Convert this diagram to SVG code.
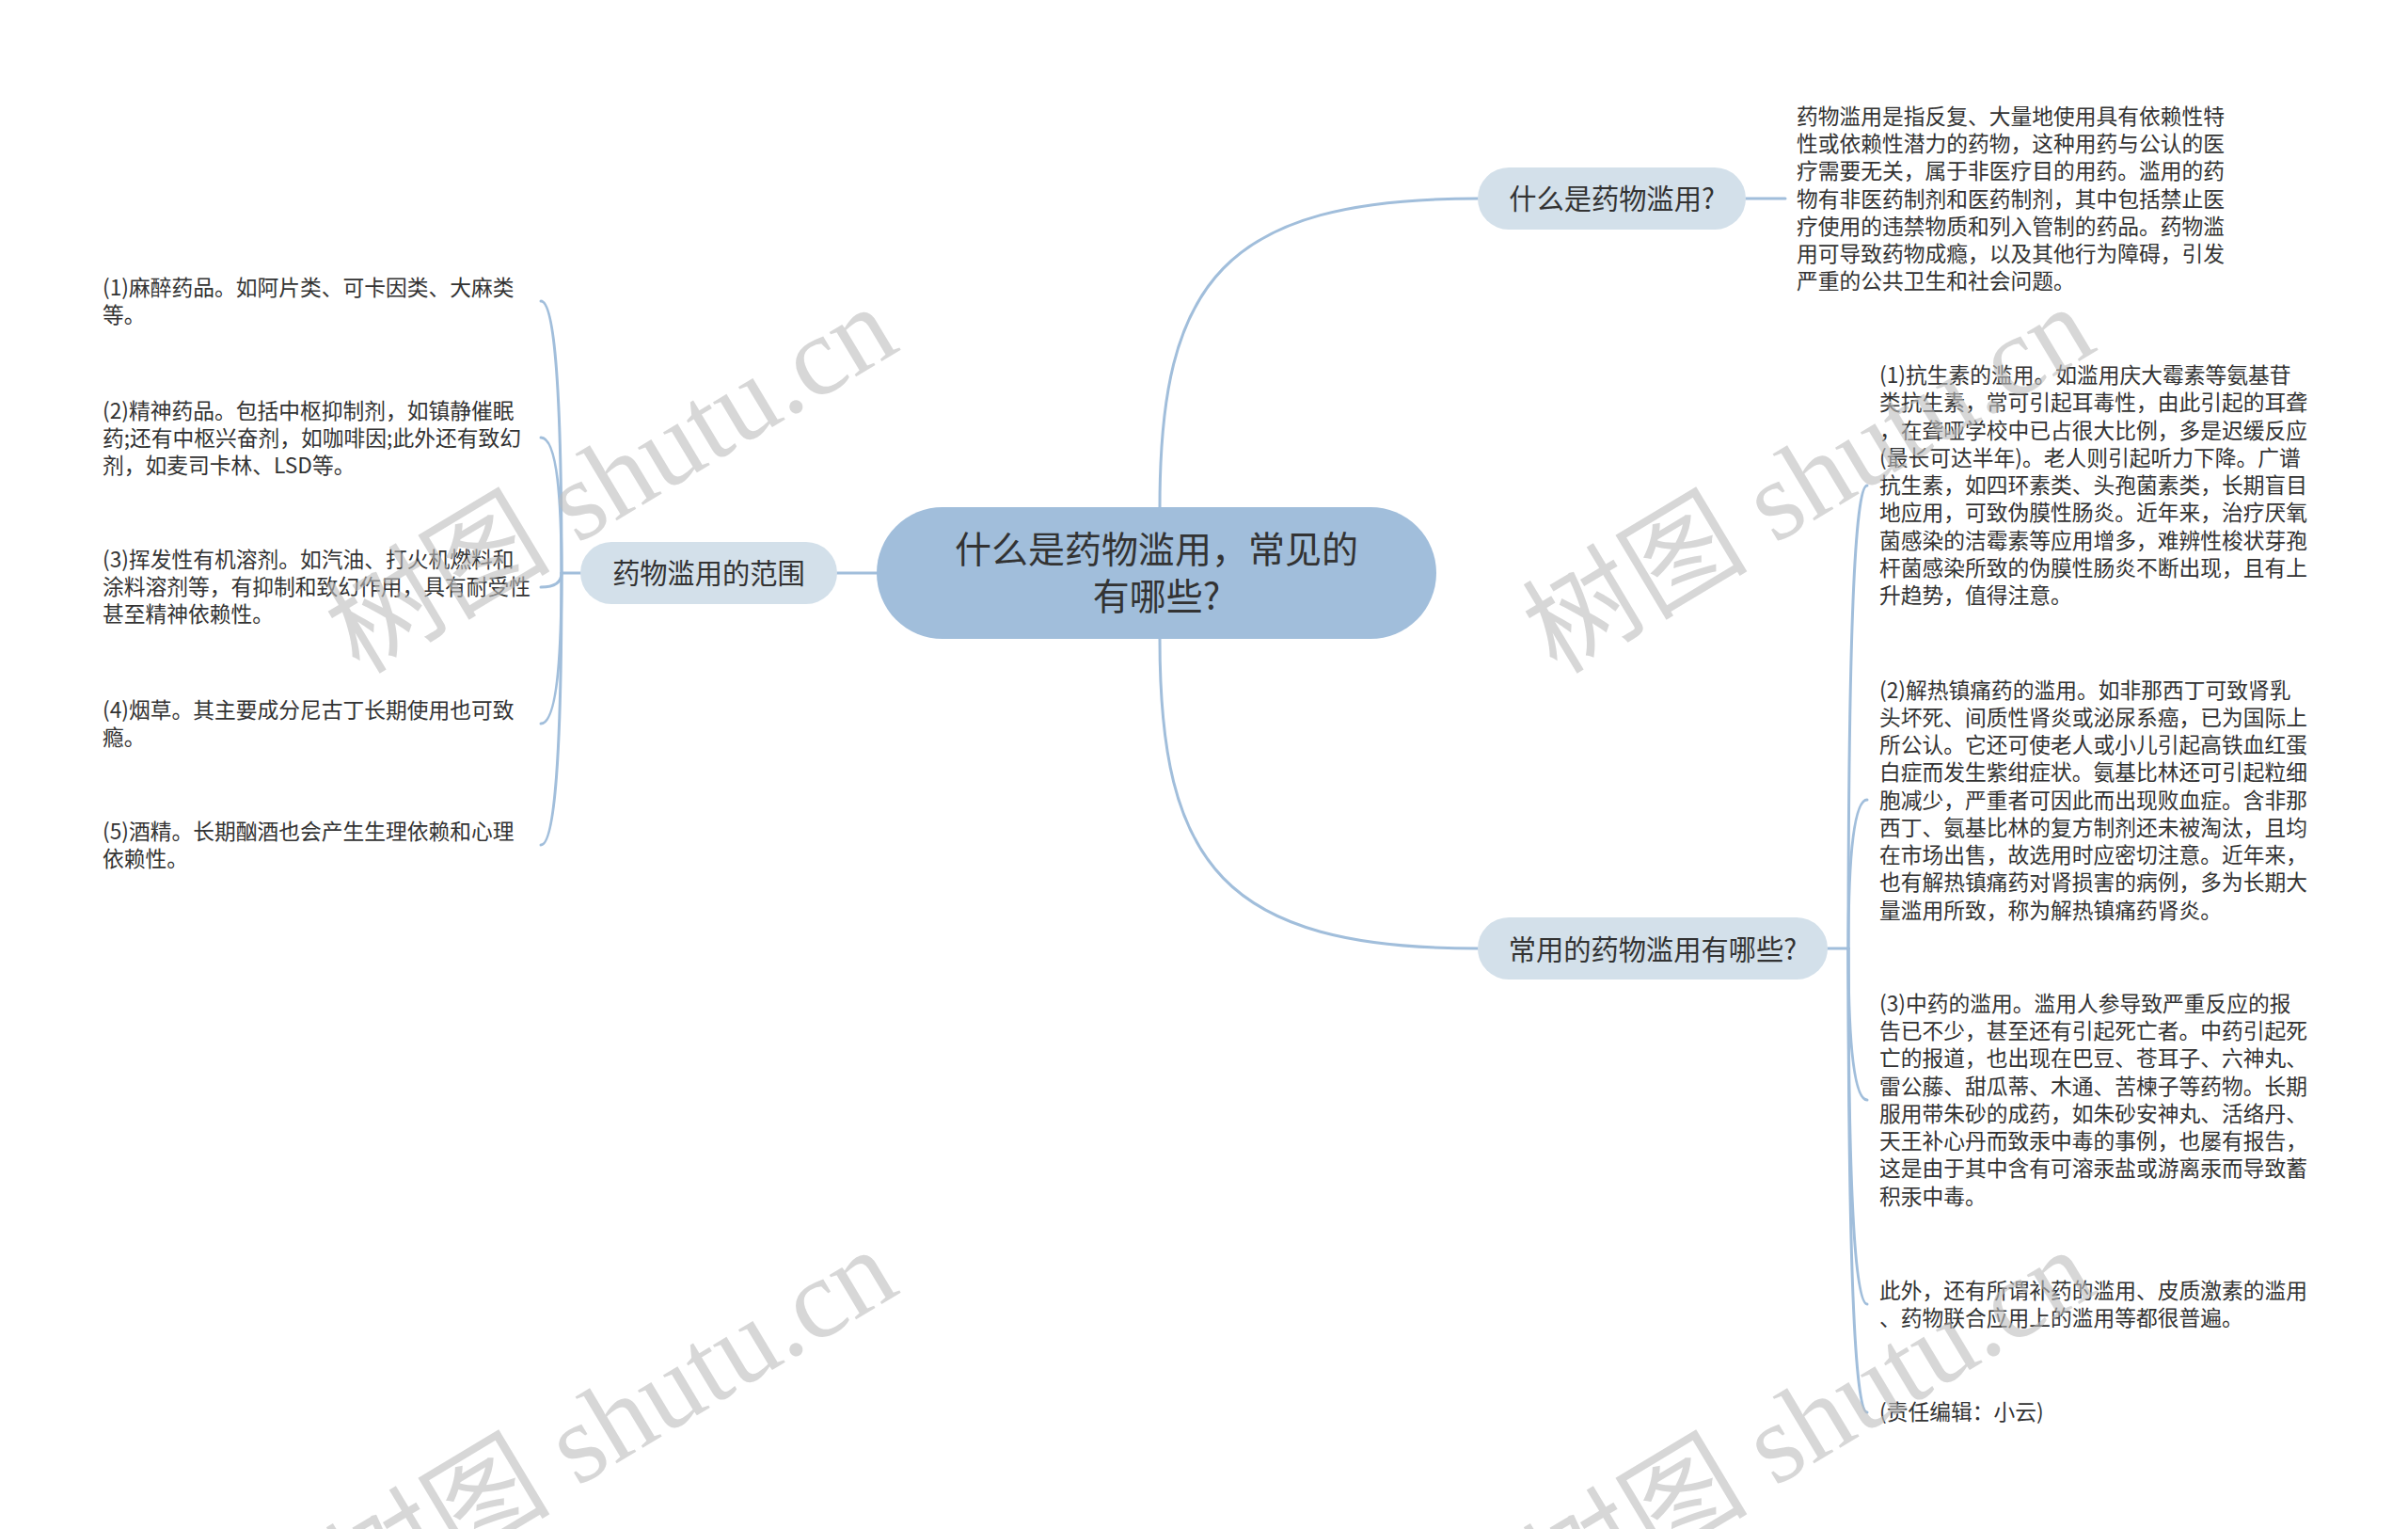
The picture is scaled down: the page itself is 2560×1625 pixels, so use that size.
<svg xmlns="http://www.w3.org/2000/svg" width="2560" height="1625" viewBox="0 0 2560 1625">
<defs>
<style>
.bg{fill:#ffffff}
.edge{fill:none;stroke:#a1bedb;stroke-width:3;stroke-linecap:round}
.root rect{fill:#a1bedb}
.sub rect{fill:#d3e0ea}
.t{font-family:"Noto Sans CJK SC","Noto Sans",sans-serif;fill:#333333}
.rt{font-size:39px}
.st{font-size:29.25px}
.lt{font-size:22.75px}
.wm{font-family:"Liberation Serif","Noto Sans CJK SC",serif;font-size:120px;fill:#bdbdbd;fill-opacity:0.6}
</style>
</defs>
<rect class="bg" x="0" y="0" width="2560" height="1625"/>

<g id="connectors">
<path class="edge" d="M 932 609 L 890 609"/>
<path class="edge" d="M 1233 539 C 1233 300 1300 211 1571 211"/>
<path class="edge" d="M 1233 679 C 1233 918 1300 1008 1571 1008"/>
<path class="edge" d="M 1856 211 L 1898 211"/>
<path class="edge" d="M 1943 1008 L 1965 1008"/>
<path class="edge" d="M 1965 1008 Q 1965 516 1985 516"/>
<path class="edge" d="M 1965 1008 Q 1965 850 1985 850"/>
<path class="edge" d="M 1965 1008 Q 1965 1169 1985 1169"/>
<path class="edge" d="M 1965 1008 Q 1965 1386 1985 1386"/>
<path class="edge" d="M 1965 1008 Q 1965 1501 1985 1501"/>
<path class="edge" d="M 617 609 L 597 609"/>
<path class="edge" d="M 597 609 Q 597 320 575 320"/>
<path class="edge" d="M 597 609 Q 597 465 575 465"/>
<path class="edge" d="M 597 609 Q 597 624 575 624"/>
<path class="edge" d="M 597 609 Q 597 769 575 769"/>
<path class="edge" d="M 597 609 Q 597 898 575 898"/>
</g>

<g id="root" class="root">
<rect x="932" y="539" width="595" height="140" rx="70" ry="70"/>
<text class="t rt" text-anchor="middle"><tspan x="1229.5" y="598">什么是药物滥用，常见的</tspan><tspan x="1229.5" y="648">有哪些?</tspan></text>
</g>

<g id="node-scope" class="sub">
<rect x="617" y="576" width="273" height="66" rx="33" ry="33"/>
<text class="t st" x="753.5" y="620" text-anchor="middle">药物滥用的范围</text>
</g>

<g id="node-what" class="sub">
<rect x="1571" y="178" width="285" height="66" rx="33" ry="33"/>
<text class="t st" x="1713.5" y="222" text-anchor="middle">什么是药物滥用?</text>
</g>

<g id="node-common" class="sub">
<rect x="1571" y="975" width="372" height="66" rx="33" ry="33"/>
<text class="t st" x="1757" y="1019.5" text-anchor="middle">常用的药物滥用有哪些?</text>
</g>

<g id="leaf-what-desc">
<text class="t lt"><tspan x="1910" y="131.9">药物滥用是指反复、大量地使用具有依赖性特</tspan><tspan x="1910" y="161.1">性或依赖性潜力的药物，这种用药与公认的医</tspan><tspan x="1910" y="190.4">疗需要无关，属于非医疗目的用药。滥用的药</tspan><tspan x="1910" y="219.6">物有非医药制剂和医药制剂，其中包括禁止医</tspan><tspan x="1910" y="248.9">疗使用的违禁物质和列入管制的药品。药物滥</tspan><tspan x="1910" y="278.1">用可导致药物成瘾，以及其他行为障碍，引发</tspan><tspan x="1910" y="307.4">严重的公共卫生和社会问题。</tspan></text>
</g>

<g id="leaf-common-1">
<text class="t lt"><tspan x="1998" y="407">(1)抗生素的滥用。如滥用庆大霉素等氨基苷</tspan><tspan x="1998" y="436.25">类抗生素，常可引起耳毒性，由此引起的耳聋</tspan><tspan x="1998" y="465.5">，在聋哑学校中已占很大比例，多是迟缓反应</tspan><tspan x="1998" y="494.75">(最长可达半年)。老人则引起听力下降。广谱</tspan><tspan x="1998" y="524">抗生素，如四环素类、头孢菌素类，长期盲目</tspan><tspan x="1998" y="553.25">地应用，可致伪膜性肠炎。近年来，治疗厌氧</tspan><tspan x="1998" y="582.5">菌感染的洁霉素等应用增多，难辨性梭状芽孢</tspan><tspan x="1998" y="611.75">杆菌感染所致的伪膜性肠炎不断出现，且有上</tspan><tspan x="1998" y="641">升趋势，值得注意。</tspan></text>
</g>

<g id="leaf-common-2">
<text class="t lt"><tspan x="1998" y="741.7">(2)解热镇痛药的滥用。如非那西丁可致肾乳</tspan><tspan x="1998" y="770.95">头坏死、间质性肾炎或泌尿系癌，已为国际上</tspan><tspan x="1998" y="800.2">所公认。它还可使老人或小儿引起高铁血红蛋</tspan><tspan x="1998" y="829.45">白症而发生紫绀症状。氨基比林还可引起粒细</tspan><tspan x="1998" y="858.7">胞减少，严重者可因此而出现败血症。含非那</tspan><tspan x="1998" y="887.95">西丁、氨基比林的复方制剂还未被淘汰，且均</tspan><tspan x="1998" y="917.2">在市场出售，故选用时应密切注意。近年来，</tspan><tspan x="1998" y="946.45">也有解热镇痛药对肾损害的病例，多为长期大</tspan><tspan x="1998" y="975.7">量滥用所致，称为解热镇痛药肾炎。</tspan></text>
</g>

<g id="leaf-common-3">
<text class="t lt"><tspan x="1998" y="1074.8">(3)中药的滥用。滥用人参导致严重反应的报</tspan><tspan x="1998" y="1104.05">告已不少，甚至还有引起死亡者。中药引起死</tspan><tspan x="1998" y="1133.3">亡的报道，也出现在巴豆、苍耳子、六神丸、</tspan><tspan x="1998" y="1162.55">雷公藤、甜瓜蒂、木通、苦楝子等药物。长期</tspan><tspan x="1998" y="1191.8">服用带朱砂的成药，如朱砂安神丸、活络丹、</tspan><tspan x="1998" y="1221.05">天王补心丹而致汞中毒的事例，也屡有报告，</tspan><tspan x="1998" y="1250.3">这是由于其中含有可溶汞盐或游离汞而导致蓄</tspan><tspan x="1998" y="1279.55">积汞中毒。</tspan></text>
</g>

<g id="leaf-common-4">
<text class="t lt"><tspan x="1998" y="1380.1">此外，还有所谓补药的滥用、皮质激素的滥用</tspan><tspan x="1998" y="1409.35">、药物联合应用上的滥用等都很普遍。</tspan></text>
</g>

<g id="leaf-common-5">
<text class="t lt" x="1998" y="1509">(责任编辑：小云)</text>
</g>

<g id="leaf-scope-1">
<text class="t lt"><tspan x="109" y="314">(1)麻醉药品。如阿片类、可卡因类、大麻类</tspan><tspan x="109" y="343.25">等。</tspan></text>
</g>

<g id="leaf-scope-2">
<text class="t lt"><tspan x="109" y="444.5">(2)精神药品。包括中枢抑制剂，如镇静催眠</tspan><tspan x="109" y="473.75">药;还有中枢兴奋剂，如咖啡因;此外还有致幻</tspan><tspan x="109" y="503">剂，如麦司卡林、LSD等。</tspan></text>
</g>

<g id="leaf-scope-3">
<text class="t lt"><tspan x="109" y="602.9">(3)挥发性有机溶剂。如汽油、打火机燃料和</tspan><tspan x="109" y="632.15">涂料溶剂等，有抑制和致幻作用，具有耐受性</tspan><tspan x="109" y="661.4">甚至精神依赖性。</tspan></text>
</g>

<g id="leaf-scope-4">
<text class="t lt"><tspan x="109" y="762.9">(4)烟草。其主要成分尼古丁长期使用也可致</tspan><tspan x="109" y="792.15">瘾。</tspan></text>
</g>

<g id="leaf-scope-5">
<text class="t lt"><tspan x="109" y="891.9">(5)酒精。长期酗酒也会产生生理依赖和心理</tspan><tspan x="109" y="921.15">依赖性。</tspan></text>
</g>

<g id="watermarks">
<text class="wm" transform="translate(650 510) rotate(-31)" x="0" y="40" text-anchor="middle">树图 shutu.cn</text>
<text class="wm" transform="translate(1923 510) rotate(-31)" x="0" y="40" text-anchor="middle">树图 shutu.cn</text>
<text class="wm" transform="translate(650 1512) rotate(-31)" x="0" y="40" text-anchor="middle">树图 shutu.cn</text>
<text class="wm" transform="translate(1923 1512) rotate(-31)" x="0" y="40" text-anchor="middle">树图 shutu.cn</text>
</g>
</svg>
